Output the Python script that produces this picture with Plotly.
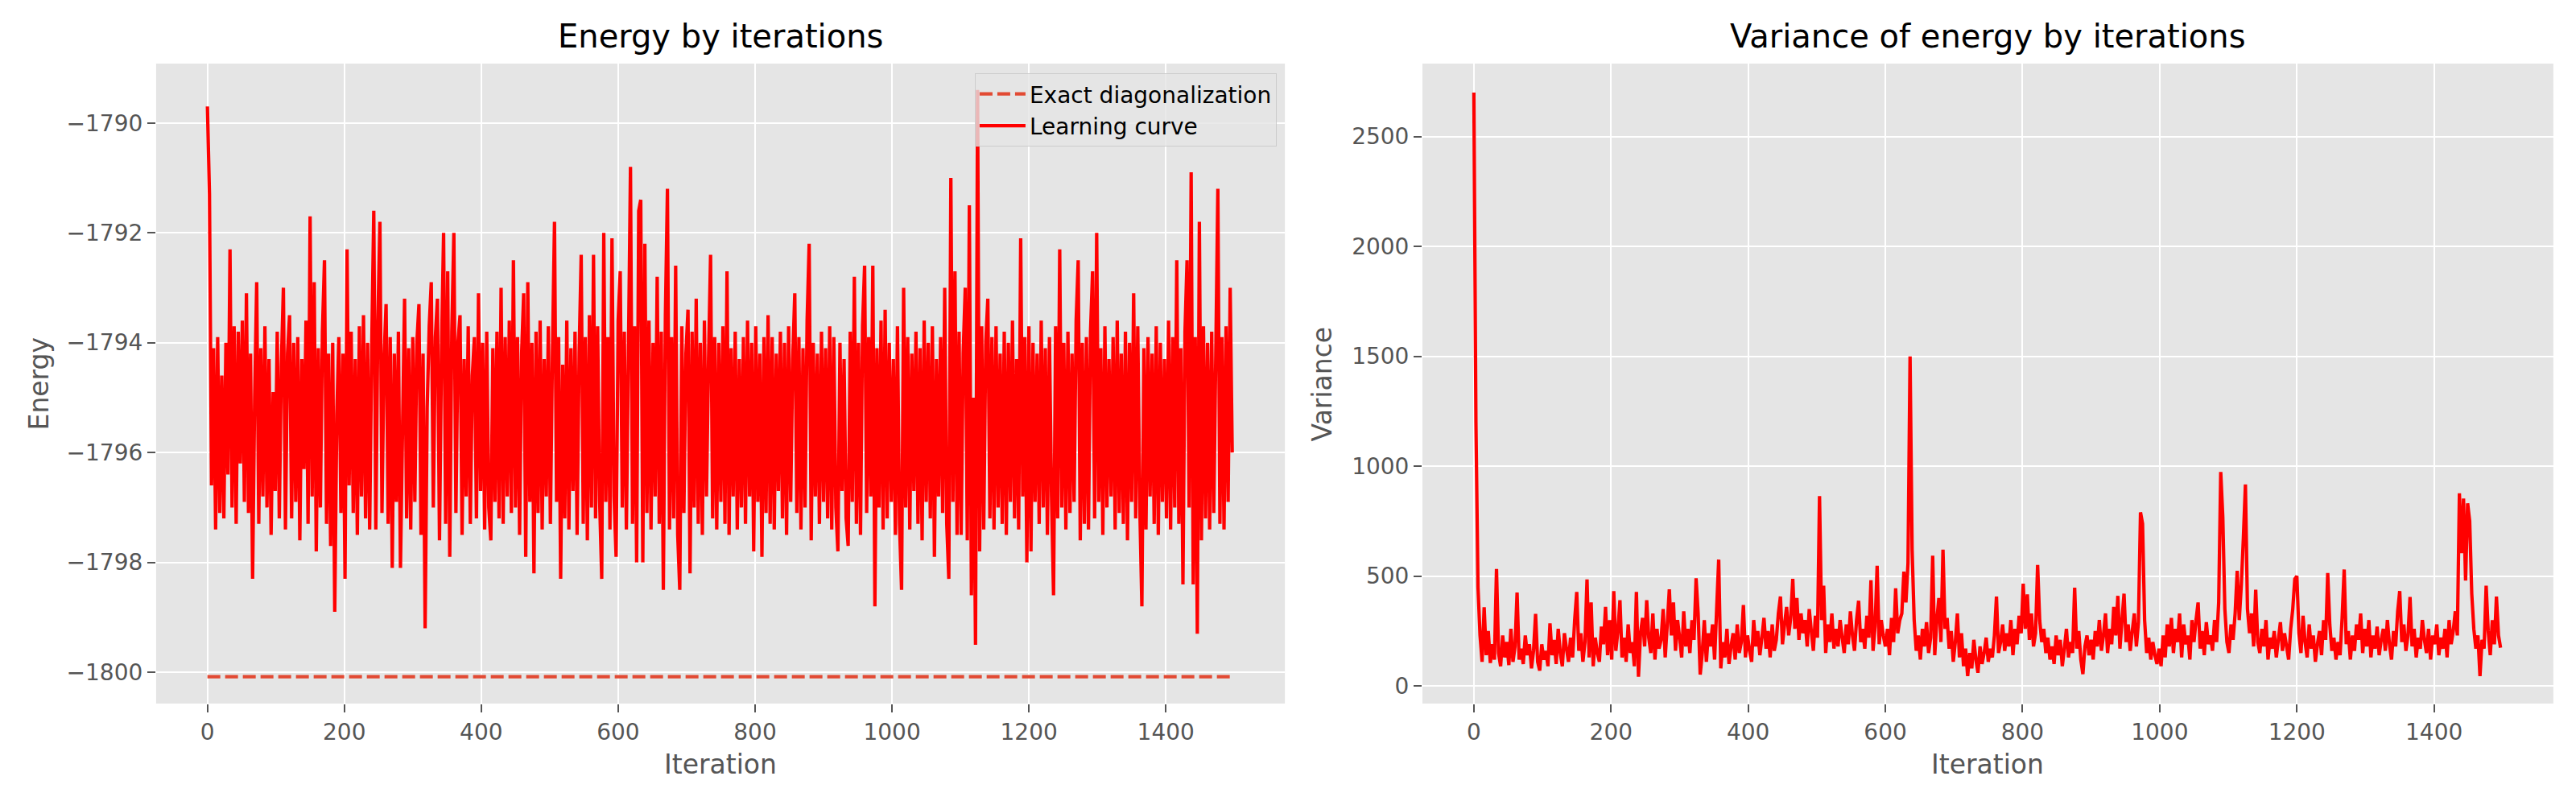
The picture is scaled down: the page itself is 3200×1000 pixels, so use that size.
import plotly.graph_objs as go

# Energia por iteracion (cada 3 iteraciones)
energy = [
    -1789.7, -1791.3, -1796.6, -1794.1, -1797.4, -1793.9, -1797.1, -1794.6, -1797.2, -1794.0,
    -1796.4, -1792.3, -1797.0, -1793.7, -1797.3, -1793.8, -1796.2, -1793.6, -1796.9, -1793.1,
    -1797.1, -1794.2, -1798.3, -1795.0, -1792.9, -1797.3, -1794.1, -1796.8, -1793.7, -1797.0,
    -1794.3, -1797.5, -1794.9, -1796.7, -1793.8, -1797.2, -1794.4, -1793.0, -1797.4, -1794.2,
    -1793.5, -1797.2, -1794.0, -1796.9, -1793.9, -1797.6, -1794.3, -1796.3, -1793.6, -1797.3,
    -1791.7, -1796.8, -1792.9, -1797.8, -1794.1, -1797.0, -1793.8, -1792.5, -1797.3, -1794.2,
    -1797.7, -1794.0, -1798.9, -1795.3, -1793.9, -1797.1, -1794.2, -1798.3, -1792.3, -1796.6,
    -1793.8, -1797.1, -1794.3, -1797.5, -1793.7, -1796.8, -1793.5, -1797.2, -1794.0, -1797.4,
    -1794.1, -1791.6, -1797.4, -1793.6, -1791.8, -1797.1, -1794.3, -1793.3, -1797.3, -1793.9,
    -1798.1, -1794.2, -1796.9, -1793.8, -1798.1, -1795.6, -1793.2, -1797.2, -1794.1, -1797.4,
    -1793.9, -1796.9, -1794.0, -1793.3, -1797.5, -1794.2, -1799.2, -1795.2, -1793.7, -1792.9,
    -1797.0, -1793.9, -1793.2, -1797.6, -1794.1, -1792.0, -1797.3, -1792.7, -1797.9, -1793.8,
    -1792.0, -1797.1, -1794.0, -1793.5, -1797.5, -1794.3, -1796.8, -1793.7, -1797.3, -1794.6,
    -1793.9, -1797.2, -1793.1, -1796.7, -1794.0, -1797.4, -1793.8, -1797.0, -1797.6, -1794.1,
    -1796.9, -1793.8, -1797.2, -1793.0, -1797.3, -1793.9, -1796.8, -1793.6, -1797.1, -1792.5,
    -1797.0, -1793.9, -1797.5, -1794.2, -1793.1, -1797.9, -1792.9, -1796.9, -1794.0, -1798.2,
    -1793.8, -1797.1, -1793.6, -1797.4, -1794.3, -1796.8, -1793.7, -1797.3, -1794.2, -1791.8,
    -1796.9, -1793.9, -1798.3, -1794.4, -1797.2, -1793.6, -1797.4, -1794.1, -1796.7, -1793.8,
    -1797.5, -1794.2, -1792.4, -1797.3, -1793.9, -1797.6, -1793.5, -1797.0, -1792.4, -1797.2,
    -1793.7, -1796.9, -1798.3, -1792.0, -1796.9, -1793.9, -1797.4, -1792.1, -1796.8, -1797.9,
    -1793.6, -1792.7, -1797.0, -1793.8, -1797.4, -1794.2, -1790.8, -1797.3, -1793.7, -1798.0,
    -1791.6, -1791.4, -1798.0, -1792.2, -1797.1, -1793.6, -1797.4, -1794.0, -1796.8, -1792.8,
    -1797.3, -1793.8, -1798.5, -1793.5, -1791.2, -1797.4, -1793.9, -1797.2, -1792.6, -1797.5,
    -1798.5, -1793.7, -1797.1, -1794.2, -1793.4, -1798.2, -1793.8, -1797.0, -1793.2, -1797.3,
    -1794.0, -1797.5, -1793.6, -1796.8, -1794.3, -1792.4, -1797.2, -1793.9, -1797.4, -1794.0,
    -1796.9, -1793.7, -1797.3, -1792.7, -1797.5, -1794.1, -1796.8, -1793.8, -1797.4, -1794.3,
    -1797.0, -1793.9, -1797.3, -1793.6, -1796.8, -1794.0, -1797.8, -1793.7, -1796.9, -1794.2,
    -1797.9, -1793.9, -1797.1, -1793.5, -1797.3, -1793.9, -1797.4, -1794.2, -1796.7, -1793.8,
    -1797.2, -1794.0, -1797.5, -1793.7, -1796.9, -1794.3, -1793.1, -1797.1, -1793.9, -1797.4,
    -1794.1, -1797.0, -1793.6, -1792.2, -1797.6, -1794.0, -1796.8, -1794.2, -1797.3, -1793.8,
    -1796.9, -1794.1, -1797.2, -1793.7, -1797.4, -1793.9, -1797.0, -1797.8, -1794.0, -1796.7,
    -1794.3, -1797.2, -1797.7, -1793.8, -1796.9, -1792.8, -1797.3, -1794.0, -1797.5, -1793.7,
    -1792.6, -1797.1, -1793.9, -1796.8, -1792.6, -1798.8, -1794.1, -1797.0, -1793.6, -1797.4,
    -1793.4, -1797.2, -1794.0, -1796.9, -1794.3, -1797.5, -1793.7, -1797.3, -1798.5, -1793.0,
    -1797.0, -1793.9, -1797.4, -1794.2, -1796.7, -1793.8, -1797.3, -1794.1, -1797.6, -1793.6,
    -1796.9, -1794.0, -1797.2, -1793.7, -1797.9, -1794.3, -1796.8, -1793.9, -1797.1, -1793.0,
    -1797.3, -1798.3, -1791.0, -1796.9, -1792.7, -1797.5, -1793.8, -1797.5, -1794.2, -1793.0,
    -1797.6, -1791.5, -1798.6, -1795.0, -1799.5, -1789.4, -1797.8, -1793.7, -1797.4, -1794.0,
    -1793.2, -1797.2, -1793.9, -1797.4, -1793.7, -1797.0, -1794.2, -1797.3, -1793.8, -1797.5,
    -1794.0, -1796.9, -1793.6, -1797.2, -1794.3, -1797.4, -1792.1, -1796.8, -1793.9, -1798.0,
    -1793.7, -1797.8, -1794.0, -1796.9, -1794.2, -1797.3, -1793.6, -1797.0, -1794.1, -1797.5,
    -1793.9, -1796.8, -1798.6, -1793.7, -1797.2, -1792.3, -1797.0, -1794.0, -1797.4, -1793.8,
    -1797.1, -1794.2, -1796.9, -1793.6, -1792.5, -1797.6, -1794.0, -1797.3, -1793.9, -1797.4,
    -1793.8, -1792.7, -1797.2, -1792.0, -1796.9, -1794.1, -1797.5, -1793.7, -1797.0, -1794.3,
    -1796.8, -1793.9, -1797.4, -1793.6, -1797.1, -1794.2, -1797.3, -1793.8, -1797.6, -1794.0,
    -1796.9, -1793.1, -1797.2, -1793.7, -1797.0, -1798.8, -1794.1, -1797.4, -1793.9, -1796.8,
    -1794.2, -1797.3, -1793.7, -1797.5, -1794.0, -1796.9, -1794.3, -1797.2, -1793.6, -1797.4,
    -1793.9, -1797.0, -1792.5, -1797.3, -1794.1, -1798.4, -1793.8, -1792.5, -1797.0, -1790.9,
    -1798.4, -1793.9, -1799.3, -1791.8, -1797.6, -1793.7, -1797.2, -1794.0, -1797.4, -1793.8,
    -1797.1, -1794.2, -1791.2, -1797.3, -1793.9, -1797.4, -1793.7, -1796.9, -1793.0, -1796.0,
]

# Varianza de la energia (mismas iteraciones)
variance = [
    2700, 1200, 450, 230, 110, 358, 140, 250, 105, 190,
    120, 532, 150, 90, 230, 130, 200, 95, 260, 110,
    180, 425, 120, 170, 100, 230, 140, 190, 80, 160,
    328, 110, 70, 190, 120, 160, 90, 285, 140, 210,
    100, 260, 150, 90, 240, 170, 110, 220, 130, 300,
    428, 160, 240, 110, 200, 485, 130, 380, 90, 220,
    150, 110, 270, 190, 360, 140, 300, 120, 432, 160,
    250, 390, 130, 220, 110, 280, 150, 200, 90, 428,
    42, 240, 310, 180, 390, 220, 150, 330, 120, 260,
    170, 210, 350, 130, 280, 440, 230, 380, 160, 300,
    220, 130, 340, 180, 260, 150, 300, 210, 490, 330,
    52, 150, 300, 110, 240, 180, 280, 120, 350, 575,
    80, 200, 130, 260, 100, 180, 240, 120, 280, 150,
    200, 368, 130, 230, 160, 110, 300, 180, 250, 140,
    220, 310, 170, 250, 130, 280, 160, 210, 330, 407,
    190, 280, 360, 230, 310, 487, 260, 400, 210, 330,
    240, 300, 180, 350, 250, 160, 320, 220, 864, 300,
    456, 150, 280, 200, 330, 170, 260, 180, 300, 220,
    150, 280, 190, 340, 230, 160, 300, 388, 200, 260,
    170, 320, 220, 481, 160, 270, 547, 190, 300, 230,
    180, 260, 140, 310, 200, 444, 240, 300, 330, 520,
    380, 560, 1500, 620, 300, 160, 230, 120, 260, 180,
    290, 150, 220, 593, 140, 300, 400, 200, 620, 260,
    310, 170, 250, 110, 200, 330, 130, 240, 90, 170,
    45, 150, 80, 210, 120, 60, 180, 100, 150, 220,
    110, 170, 130, 230, 407, 150, 200, 280, 160, 240,
    180, 300, 140, 260, 190, 320, 240, 465, 260, 417,
    210, 330, 180, 240, 551, 300, 200, 260, 150, 220,
    120, 180, 100, 230, 140, 210, 90, 170, 260, 130,
    200, 150, 447, 170, 250, 120, 54, 180, 230, 140,
    210, 120, 250, 180, 300, 160, 230, 330, 150, 260,
    190, 360, 230, 410, 170, 300, 420, 200, 280, 160,
    250, 330, 180, 290, 790, 739, 300, 150, 220, 120,
    200, 140, 100, 170, 90, 230, 130, 280, 180, 310,
    150, 260, 200, 330, 130, 280, 190, 230, 120, 300,
    200, 300, 380, 170, 250, 140, 290, 190, 230, 160,
    300, 200, 380, 974, 770, 350, 200, 150, 280, 210,
    330, 524, 300, 460, 672, 917, 350, 240, 330, 180,
    438, 200, 150, 260, 180, 300, 120, 220, 170, 250,
    130, 210, 290, 160, 240, 180, 120, 260, 350, 487,
    500, 240, 150, 320, 200, 130, 280, 170, 230, 110,
    190, 250, 140, 300, 210, 514, 280, 160, 220, 120,
    200, 140, 310, 530, 190, 250, 120, 230, 160, 280,
    210, 330, 150, 260, 180, 300, 130, 230, 170, 270,
    140, 210, 260, 160, 300, 190, 120, 250, 180, 340,
    432, 200, 280, 160, 230, 405, 180, 260, 130, 220,
    170, 300, 210, 150, 260, 120, 230, 190, 280, 140,
    220, 170, 260, 130, 300, 190, 250, 340, 230, 877,
    604, 853, 480, 831, 750, 420, 260, 170, 230, 45,
    210, 170, 456, 250, 140, 300, 190, 407, 230, 174,
]

iteration = list(range(0, 3 * len(energy), 3))
exact_iter = [0, 1499]
exact_energy = [-1800.08, -1800.08]

x_ticks = [0, 200, 400, 600, 800, 1000, 1200, 1400]
energy_ticks = [-1800, -1798, -1796, -1794, -1792, -1790]
variance_ticks = [0, 500, 1000, 1500, 2000, 2500]

FONT = "DejaVu Sans"
GREY = "#555555"


def axis_style(domain, ticks, rng, anchor):
    return dict(
        domain=domain, anchor=anchor, range=rng, tickvals=ticks,
        showgrid=True, gridcolor="white", gridwidth=2.2, zeroline=False,
        ticks="outside", ticklen=10, tickwidth=2, tickcolor=GREY,
        tickfont=dict(family=FONT, size=28, color=GREY), showline=False,
    )


def plot_energy():
    fig = go.Figure()

    # Linea de diagonalizacion exacta
    fig.add_trace(go.Scatter(
        x=exact_iter, y=exact_energy, mode="lines", name="Exact diagonalization",
        line=dict(color="#E24A33", width=4.2, dash="16px,6px"),
        xaxis="x", yaxis="y",
    ))
    # Curva de aprendizaje
    fig.add_trace(go.Scatter(
        x=iteration, y=energy, mode="lines", name="Learning curve",
        line=dict(color="#ff0000", width=4.2, simplify=False),
        xaxis="x", yaxis="y",
    ))
    # Varianza
    fig.add_trace(go.Scatter(
        x=iteration, y=variance, mode="lines", showlegend=False,
        line=dict(color="#ff0000", width=4.2, simplify=False),
        xaxis="x2", yaxis="y2",
    ))

    left = [0.0606, 0.4988]
    right = [0.5522, 0.9912]
    ydom = [0.126, 0.921]

    annotations = [
        dict(text="Energy by iterations", x=sum(left) / 2, y=0.955),
        dict(text="Variance of energy by iterations", x=sum(right) / 2, y=0.955),
    ]
    annotations = [dict(a, xref="paper", yref="paper", showarrow=False,
                        xanchor="center", yanchor="middle",
                        font=dict(family=FONT, size=40, color="black")) for a in annotations]
    labels = [
        dict(text="Iteration", x=sum(left) / 2, y=0.051, textangle=0),
        dict(text="Iteration", x=sum(right) / 2, y=0.051, textangle=0),
        dict(text="Energy", x=0.0153, y=sum(ydom) / 2, textangle=-90),
        dict(text="Variance", x=0.5134, y=sum(ydom) / 2, textangle=-90),
    ]
    for a in labels:
        annotations.append(dict(a, xref="paper", yref="paper", showarrow=False,
                                xanchor="center", yanchor="middle",
                                font=dict(family=FONT, size=33, color=GREY)))

    fig.update_layout(
        width=3200, height=1000,
        margin=dict(l=0, r=0, t=0, b=0),
        paper_bgcolor="white", plot_bgcolor="#E5E5E5",
        font=dict(family=FONT, color=GREY),
        xaxis=axis_style(left, x_ticks, [-74.95, 1573.95], "y"),
        yaxis=axis_style(ydom, energy_ticks, [-1800.57, -1788.92], "x"),
        xaxis2=axis_style(right, x_ticks, [-74.95, 1573.95], "y2"),
        yaxis2=axis_style(ydom, variance_ticks, [-80, 2832], "x2"),
        annotations=annotations,
        legend=dict(
            x=0.4956, y=0.909, xanchor="right", yanchor="top",
            bgcolor="rgba(229,229,229,0.8)", bordercolor="#cccccc", borderwidth=1,
            font=dict(family=FONT, size=28, color="black"), itemwidth=57,
            tracegroupgap=6,
        ),
        showlegend=True,
    )

    # sin barra de herramientas y sin el margen por defecto del body
    fig.write_html("out.html", config={"displayModeBar": False},
                   post_script="document.body.style.margin='0px';")


if __name__ == "__main__":
    plot_energy()
